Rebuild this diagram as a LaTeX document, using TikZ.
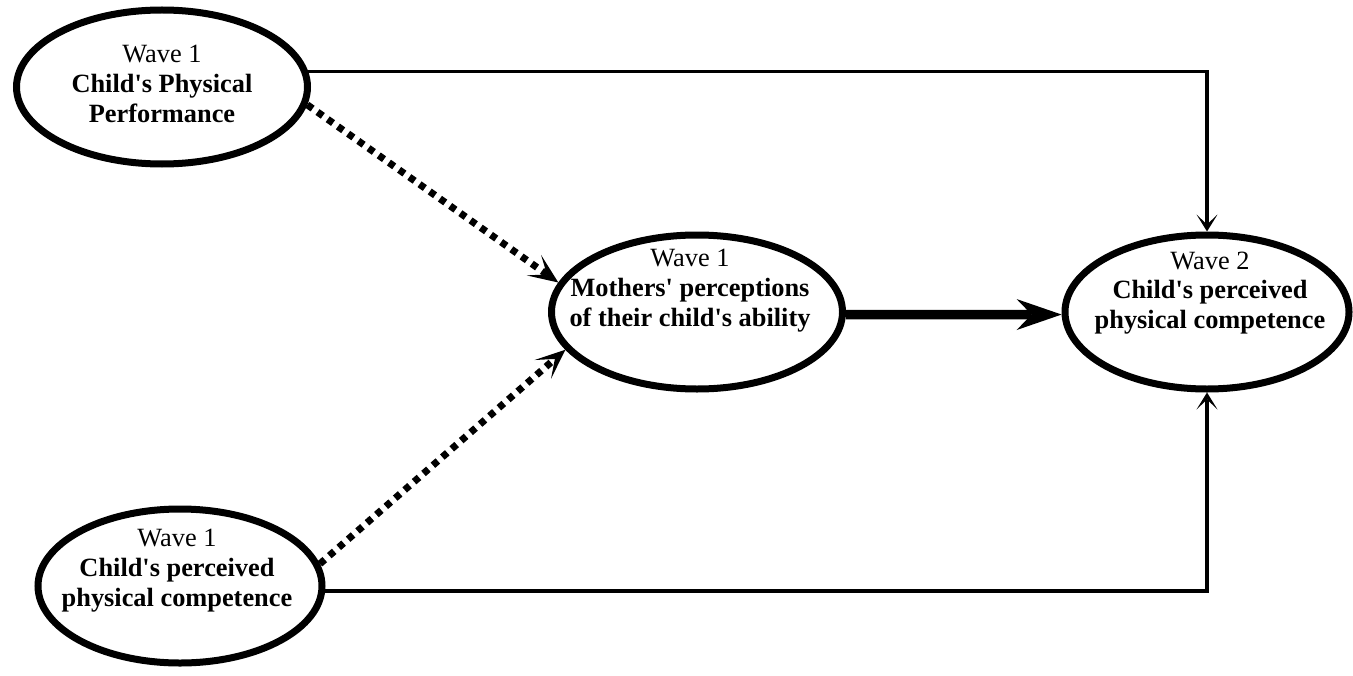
\documentclass[tikz,border=0pt]{standalone}
\usepackage{fontspec}
\setmainfont{Liberation Serif}
\usetikzlibrary{shapes.geometric,arrows.meta}

\tikzset{
  oval/.style={ellipse, draw=black, line width=0.14cm, minimum width=5.82cm, minimum height=3.08cm},
  txt/.style={align=center, font=\fontsize{15}{17}\selectfont},
  link/.style={black, line width=0.065cm, -{Stealth[length=0.34cm,width=0.42cm,inset=0.2cm,line width=0pt]}},
  dots/.style={black, line width=0.14cm, dash pattern=on 0.13cm off 0.12cm, -{Stealth[length=0.6cm,width=0.5cm,inset=0.32cm,line width=0pt]}},
  main/.style={black, line width=0.19cm, -{Stealth[length=0.9cm,width=0.62cm,inset=0.3cm,line width=0pt]}}
}

\begin{document}
\begin{tikzpicture}
\useasboundingbox (0,0) rectangle (27.06,13.5);

\node[oval] (perf) at (3.24,11.76) {};
\node[txt] (perftxt) at (3.24,11.82) {Wave 1\\\textbf{Child\textquotesingle s Physical}\\\textbf{Performance}};

\node[oval] (comp1) at (3.6,1.78) [minimum width=5.68cm] {};
\node[txt] (comp1txt) at (3.54,2.08) {Wave 1\\\textbf{Child\textquotesingle s perceived}\\\textbf{physical competence}};

\node[oval] (mother) at (13.94,7.26) {};
\node[txt] (mothertxt) at (13.8,7.68) {Wave 1\\\textbf{Mothers\textquotesingle\ perceptions}\\\textbf{of their child\textquotesingle s ability}};

\node[oval] (comp2) at (24.14,7.26) [minimum width=5.68cm] {};
\node[txt] (comp2txt) at (24.2,7.64) {Wave 2\\\textbf{Child\textquotesingle s perceived}\\\textbf{physical competence}};

\draw[link] (perf.6) -| (comp2.north);
\draw[link] (comp1.-2) -| (comp2.south);

\draw[dots] (perf.-7) -- (mother.168);
\draw[dots] (comp1.9) -- (mother.196);

\draw[main] (mother.-1) -- (comp2.-179);
\end{tikzpicture}
\end{document}
